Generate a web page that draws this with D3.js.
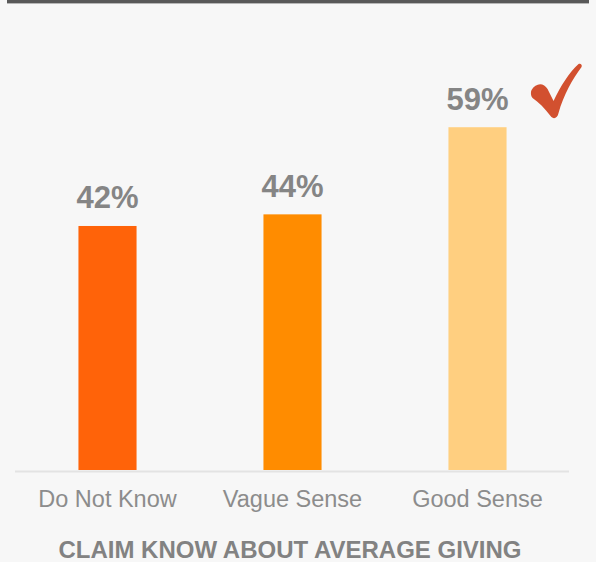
<!DOCTYPE html>
<html>
<head>
<meta charset="utf-8">
<script src="https://cdn.jsdelivr.net/npm/d3@7"></script>
<style>
  html, body { margin: 0; padding: 0; background: #f7f7f7; }
  svg { display: block; }
</style>
</head>
<body>
<svg id="chart" width="596" height="562"></svg>
<script>
// Share of respondents, by how well they claim to know average giving
const categories = ["Do Not Know", "Vague Sense", "Good Sense"];
const values = [42, 44, 59];
const barColors = ["#ff6309", "#ff8c00", "#ffcf80"];
const axisTitle = "CLAIM KNOW ABOUT AVERAGE GIVING";

const FONT = "'Liberation Sans', Arial, Helvetica, sans-serif";
const svg = d3.select("#chart");
const W = 596, H = 562;

svg.append("rect").attr("width", W).attr("height", H).attr("fill", "#f7f7f7");

// dark rule across the top
svg.append("rect").attr("x", 7).attr("y", 0).attr("width", 582).attr("height", 3.4).attr("fill", "#595959");

const x = d3.scaleBand().domain(categories).range([15, 570]).paddingInner(0.686).paddingOuter(0.343);
const y = d3.scaleLinear().domain([0, 80]).range([470, 470 - 80 * 5.81]);

// bars
svg.selectAll("rect.bar").data(values).join("rect")
  .attr("class", "bar")
  .attr("x", (d, i) => x(categories[i]))
  .attr("y", d => y(d))
  .attr("width", x.bandwidth())
  .attr("height", d => y(0) - y(d))
  .attr("fill", (d, i) => barColors[i]);

// value labels
svg.selectAll("text.val").data(values).join("text")
  .attr("class", "val")
  .attr("x", (d, i) => x(categories[i]) + x.bandwidth() / 2)
  .attr("y", d => y(d) - 17.5)
  .attr("text-anchor", "middle")
  .style("font-family", FONT)
  .attr("font-weight", "bold")
  .attr("font-size", 31)
  .attr("fill", "#858585")
  .text(d => d + "%");

// category axis
const xAxis = svg.append("g").attr("transform", `translate(0,${y(0)})`)
  .call(d3.axisBottom(x).tickSize(0).tickPadding(20));
xAxis.select(".domain").attr("stroke", "#e3e3e3").attr("stroke-width", 2)
  .attr("d", "M15,1.5H569");
xAxis.selectAll(".tick text")
  .style("font-family", FONT)
  .attr("font-size", 23.5)
  .attr("fill", "#8c8c8c");

// axis title
svg.append("text")
  .attr("x", 290).attr("y", 558)
  .attr("text-anchor", "middle")
  .style("font-family", FONT)
  .attr("font-weight", "bold")
  .attr("font-size", 24)
  .attr("fill", "#828282")
  .text(axisTitle);

// check mark beside the highest bar
svg.append("path")
  .attr("transform", `translate(${x("Good Sense") + x.bandwidth() + 24},64)`)
  .attr("fill", "#d2502f")
  .attr("d", "M1,26 C5,19 13,18 17,25 L23,37 C30,22 39,8 48,0 C50,-1 52,1 51,3 C42,15 33,31 28,49 C27,54 23,56 20,52 C14,44 8,38 2,34 C0,32 0,28 1,26 Z");
</script>
</body>
</html>
